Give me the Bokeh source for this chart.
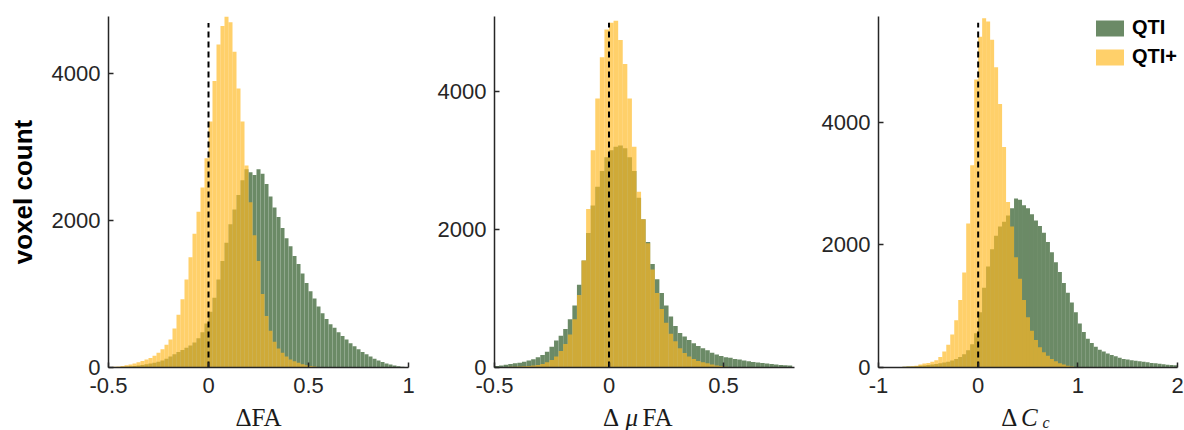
import numpy as np
from bokeh.plotting import figure
from bokeh.layouts import row, column
from bokeh.models import Range1d, FixedTicker, Legend, LegendItem
from bokeh.core.properties import value
from bokeh.embed import file_html
from bokeh.resources import INLINE

# ---------------- data (histogram bin counts) ----------------
series_names = ["QTI", "QTI+"]

# Panel 1: delta FA, bins of 0.02 from -0.5 to 1.0
fa_bin_start, fa_bin_width = -0.5, 0.02
fa_qti = [5, 6, 8, 10, 13, 17, 22, 28, 35, 45, 55, 65, 80, 95, 120, 150, 180, 210, 240, 270, 300, 340, 400, 480, 600,
          760, 950, 1200, 1450, 1700, 1950, 2150, 2350, 2550, 2700, 2660, 2620, 2700, 2640, 2500, 2330, 2180, 2050, 1900,
          1760, 1650, 1520, 1410, 1280, 1150,
          1040, 940, 830, 740, 660, 590, 540, 480, 430, 380, 330, 290, 250, 210, 180, 150, 120, 95, 75, 55, 40, 28, 18,
          10, 5]
fa_qtiplus = [8, 10, 15, 22, 30, 40, 55, 70, 90, 110, 130, 160, 200, 250, 310, 380, 530, 720, 930, 1200, 1500, 1820,
              2120, 2450, 2850,
              3350, 3900, 4400, 4650, 4780, 4700, 4300, 3800, 3350, 2750, 2250, 1800, 1450, 1000, 700, 500, 350, 260,
              200, 150, 110, 85, 65, 45, 30,
              20, 12, 8, 5, 3, 2, 1, 0, 0, 0, 0, 0, 0, 0, 0, 0, 0, 0, 0, 0, 0, 0, 0, 0, 0]

# Panel 2: delta muFA, bins of 0.02 from -0.5 to 0.8
ufa_bin_start, ufa_bin_width = -0.5, 0.02
ufa_qti = [20, 30, 40, 50, 60, 70, 85, 100, 120, 150, 180, 230, 300, 390, 460, 560, 700, 900, 1200, 1550, 1950, 2350,
           2620, 2850, 3050,
           3150, 3200, 3220, 3180, 3050, 2850, 2460, 2150, 1820, 1500, 1280, 1080, 900, 740, 600, 500, 450, 400, 350,
           310, 280, 250, 215, 190, 165,
           150, 140, 125, 115, 100, 90, 80, 72, 65, 58, 52, 45, 38, 32, 28]
ufa_qtiplus = [5, 6, 8, 10, 12, 15, 18, 22, 28, 36, 50, 75, 110, 160, 240, 340, 480, 700, 1050, 1550, 2300, 3150, 3900,
               4500, 4900,
               5000, 5030, 4750, 4400, 3900, 3200, 2550, 2150, 1800, 1420, 1080, 850, 650, 490, 380, 280, 210, 160,
               125, 95, 75, 60, 45, 30, 20,
               12, 8, 5, 4, 3, 2, 2, 1, 1, 1, 0, 0, 0, 0, 0]

# Panel 3: delta C_c, bins of 0.04 from -1 to 2
cc_bin_start, cc_bin_width = -1.0, 0.04
cc_qti = [5, 5, 6, 7, 8, 10, 12, 15, 18, 22, 27, 33, 40, 48, 57, 68, 80, 95, 115, 140, 170, 215, 280, 380, 560,
          900, 1300, 1650, 1930, 2150, 2300, 2380, 2480, 2600, 2760, 2740, 2650, 2600, 2500, 2400, 2310, 2200, 2050,
          1880, 1720, 1560, 1380, 1220, 1060, 900,
          720, 580, 470, 400, 340, 290, 260, 230, 205, 185, 160, 140, 130, 120, 110, 100, 92, 84, 75, 68, 60, 52, 45,
          40, 35]
cc_qtiplus = [3, 4, 5, 6, 8, 10, 12, 15, 20, 30, 50, 65, 75, 95, 120, 170, 260, 370, 540, 770, 1100, 1550, 2350, 3300,
              4700,
              5400, 5700, 5650, 5350, 4900, 4300, 3600, 2700, 2300, 1800, 1450, 1100, 820, 600, 450, 330, 250, 190,
              140, 100, 70, 50, 30, 15, 8,
              5, 4, 3, 2, 2, 1, 1, 1, 1, 0, 0, 0, 0, 0, 0, 0, 0, 0, 0, 0, 0, 0, 0, 0, 0]

x_ranges = [(-0.5, 1.0), (-0.5, 0.81), (-1.0, 2.0)]
y_maxes = [4780, 5090, 5730]
vline_tops = [4690, 5000, 5630]
x_ticks = [[-0.5, 0, 0.5, 1], [-0.5, 0, 0.5], [-1, 0, 1, 2]]
x_tick_labels = [["-0.5", "0", "0.5", "1"], ["-0.5", "0", "0.5"], ["-1", "0", "1", "2"]]
y_ticks = [0, 2000, 4000]
y_label = "voxel count"
# x-axis labels: (text piece, italic?, subscript?) per panel
x_label_parts = [
    [("ΔFA", False, False)],
    [("Δ", False, False), ("μ", True, False), ("FA", False, False)],
    [("Δ", False, False), ("C", True, False), ("c", True, True)],
]
# data-x of each piece (panel 1 is centred, others left-aligned)
x_label_pos = [[0.25], [-0.026, 0.072, 0.146], [0.232, 0.43, 0.645]]

# ---------------- styling ----------------
GREEN = "#6b8a66"
YELLOW = "#ffb922"
YELLOW_ALPHA = 0.675
AXIS_COLOR = "#262626"
SANS = "Liberation Sans"
SERIF = "Liberation Serif"
TOP_H = 405          # 16 + 351 frame + 38
STRIP_H = 25
BORDER_TOP, BORDER_BOTTOM = 16, 38

layout_specs = [(430, 108, 22), (384, 64, 20), (370, 64, 7)]
panels = [
    (fa_bin_start, fa_bin_width, fa_qti, fa_qtiplus),
    (ufa_bin_start, ufa_bin_width, ufa_qti, ufa_qtiplus),
    (cc_bin_start, cc_bin_width, cc_qti, cc_qtiplus),
]

cols = []
renderers = []
figs = []
for i, ((w, bl, br), (b0, bw, qti, qtip)) in enumerate(zip(layout_specs, panels)):
    xr = Range1d(*x_ranges[i])
    p = figure(width=w, height=TOP_H, x_range=xr, y_range=Range1d(0, y_maxes[i]),
               output_backend="svg", toolbar_location=None, title=None,
               min_border_left=bl, min_border_right=br, min_border_top=BORDER_TOP,
               min_border_bottom=BORDER_BOTTOM)
    p.xgrid.visible = False
    p.ygrid.visible = False
    p.outline_line_color = None

    edges = b0 + bw * np.arange(len(qti) + 1)
    g = p.quad(left=edges[:-1], right=edges[1:], bottom=0, top=qti, fill_color=GREEN, fill_alpha=1.0,
               line_color=None)
    edges2 = b0 + bw * np.arange(len(qtip) + 1)
    y = p.quad(left=edges2[:-1], right=edges2[1:], bottom=0, top=qtip, fill_color=YELLOW,
               fill_alpha=YELLOW_ALPHA, line_color=None)
    renderers.append((g, y))

    p.segment(x0=[0], y0=[0], x1=[0], y1=[vline_tops[i]], line_color="black", line_width=2, line_dash="6 4")

    for ax in (p.xaxis[0], p.yaxis[0]):
        ax.axis_line_color = AXIS_COLOR
        ax.axis_line_width = 1.5
        ax.major_tick_line_color = AXIS_COLOR
        ax.major_tick_line_width = 1.5
        ax.major_tick_in = 5
        ax.major_tick_out = 0
        ax.minor_tick_line_color = None
        ax.major_label_text_font = SANS
        ax.major_label_text_font_size = "22px"
        ax.major_label_text_color = AXIS_COLOR

    p.xaxis.ticker = FixedTicker(ticks=x_ticks[i])
    p.xaxis.major_label_overrides = {t: s for t, s in zip(x_ticks[i], x_tick_labels[i])}
    p.xaxis.major_label_standoff = 10
    p.yaxis.ticker = FixedTicker(ticks=y_ticks)
    p.yaxis.major_label_standoff = 8
    figs.append(p)

    # strip under the panel holding the x-axis label (shares the x range)
    s = figure(width=w, height=STRIP_H, x_range=xr, y_range=Range1d(0, STRIP_H),
               output_backend="svg", toolbar_location=None, title=None,
               x_axis_location=None, y_axis_location=None,
               min_border_left=bl, min_border_right=br, min_border_top=0, min_border_bottom=0)
    s.xgrid.visible = False
    s.ygrid.visible = False
    s.outline_line_color = None
    single = len(x_label_parts[i]) == 1
    for (txt, ital, sub), xpos in zip(x_label_parts[i], x_label_pos[i]):
        s.text(x=[xpos], y=[8.5 if sub else 13.5], text=[txt], text_font=value(SERIF),
               text_font_size="16px" if sub else "25px",
               text_font_style="italic" if ital else "normal",
               text_align="center" if single else "left",
               text_baseline="alphabetic", text_color="#1a1a1a")
    cols.append(column(p, s))

# y-axis label on first panel
figs[0].yaxis.axis_label = y_label
figs[0].yaxis.axis_label_text_font = SANS
figs[0].yaxis.axis_label_text_font_style = "bold"
figs[0].yaxis.axis_label_text_font_size = "26px"
figs[0].yaxis.axis_label_text_color = "black"
figs[0].yaxis.axis_label_standoff = 11

# legend on third panel
g3, y3 = renderers[2]
legend = Legend(items=[LegendItem(label=series_names[0], renderers=[g3]),
                       LegendItem(label=series_names[1], renderers=[y3])],
                location="top_right", margin=0, padding=0, spacing=6,
                glyph_width=35, glyph_height=20, label_height=20, label_standoff=5,
                label_text_font=SANS, label_text_font_style="bold", label_text_font_size="20px",
                label_text_color="black", border_line_color=None, background_fill_alpha=0.0)
figs[2].add_layout(legend)

layout = row(*cols)
open("out.html", "w").write(file_html(layout, INLINE))
